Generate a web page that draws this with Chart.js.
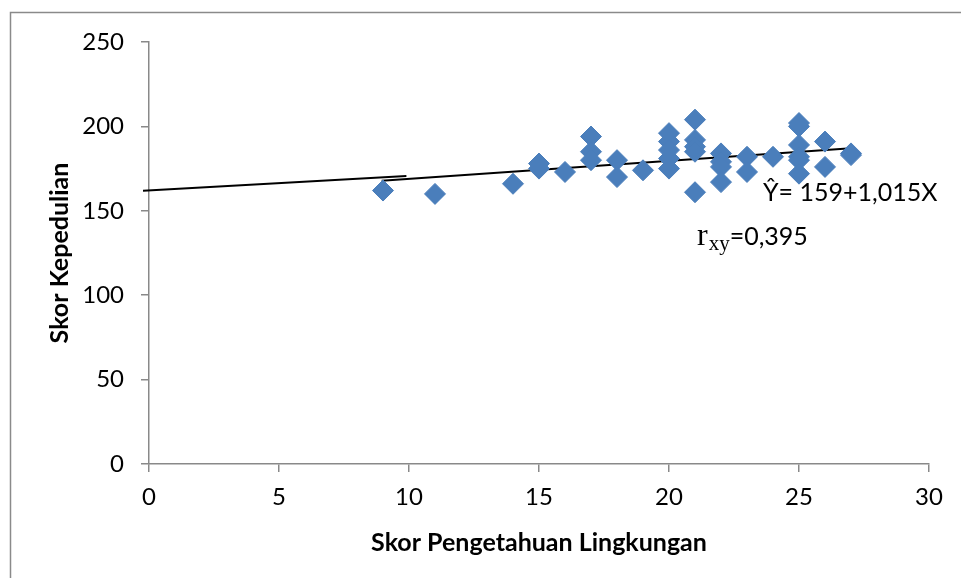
<!DOCTYPE html>
<html>
<head>
<meta charset="utf-8">
<script src="https://cdn.jsdelivr.net/npm/chart.js@4.4.0/dist/chart.umd.min.js"></script>
<style>
  html, body { margin: 0; padding: 0; background: #ffffff; }
  #wrap { width: 961px; height: 578px; }
</style>
</head>
<body>
<div id="wrap"><canvas id="grafico" width="961" height="578"></canvas></div>
<script>
// ---------- dados ----------
const skorPengetahuan = [9, 11, 14, 15, 15, 16, 17, 17, 17, 18, 18, 19, 20, 20, 20, 20, 20,
  21, 21, 21, 21, 21, 22, 22, 22, 22, 23, 23, 24, 25, 25, 25, 25, 25, 25, 26, 26, 27, 27];
const skorKepedulian = [162, 160, 166, 178, 175, 173, 194, 185, 180, 180, 170, 174, 196, 191, 186, 181, 175,
  204, 192, 188, 185, 161, 184, 179, 176, 167, 182, 173, 182, 202, 200, 189, 182, 180, 172, 191, 176, 184, 183];

// garis regresi (digambar dua potong seperti aslinya)
const garis1X = [-0.23, 9.9];
const garis1Y = [161.9, 170.6];
const garis2X = [8.95, 27];
const garis2Y = [167.8, 187];

const yTicks = [0, 50, 100, 150, 200, 250];
const xTicks = [0, 5, 10, 15, 20, 25, 30];

const judulX = "Skor Pengetahuan Lingkungan";
const judulY = "Skor Kepedulian";

// ---------- util ----------
function pasangkan(xs, ys) {
  return xs.map((x, i) => ({ x, y: ys[i] }));
}

const AXIS_COLOR = "#898989";
const FONT = "Lato";

// ---------- plugin: bingkai + anotasi ----------
const dekorasi = {
  id: "dekorasi",
  beforeDraw(chart) {
    const ctx = chart.ctx;
    ctx.save();
    ctx.fillStyle = "#ffffff";
    ctx.fillRect(0, 0, chart.width, chart.height);
    ctx.strokeStyle = "#8a8a8a";
    ctx.lineWidth = 1.5;
    ctx.beginPath();
    ctx.moveTo(10.5, chart.height + 2);
    ctx.lineTo(10.5, 12.5);
    ctx.lineTo(chart.width + 2, 12.5);
    ctx.stroke();
    ctx.restore();
  },
  afterDraw(chart) {
    const ctx = chart.ctx;
    ctx.save();
    ctx.fillStyle = "#000000";
    ctx.textBaseline = "alphabetic";
    ctx.font = "25px " + FONT;
    ctx.fillText("Ŷ= 159+1,015X", 763, 201);
    // r_xy = 0,395
    let x = 697;
    ctx.font = "32px 'Liberation Serif'";
    ctx.fillText("r", x, 245);
    x += ctx.measureText("r").width + 1;
    ctx.font = "21px 'Liberation Serif'";
    ctx.fillText("xy", x, 250);
    x += ctx.measureText("xy").width;
    ctx.font = "25px " + FONT;
    ctx.fillText("=0,395", x, 245);
    ctx.restore();
  }
};

// ---------- gráfico ----------
const ctx = document.getElementById("grafico").getContext("2d");

new Chart(ctx, {
  type: "scatter",
  data: {
    datasets: [
      {
        label: "Skor",
        data: pasangkan(skorPengetahuan, skorKepedulian),
        pointStyle: "rectRot",
        pointRadius: 10.5,
        pointHoverRadius: 10.5,
        backgroundColor: "#4a7ebb",
        borderColor: "#4a7ebb",
        borderWidth: 1,
      },
      {
        type: "line",
        data: pasangkan(garis1X, garis1Y),
        borderColor: "#000000",
        borderWidth: 2,
        pointRadius: 0,
        showLine: true,
        clip: false,
      },
      {
        type: "line",
        data: pasangkan(garis2X, garis2Y),
        borderColor: "#000000",
        borderWidth: 2,
        pointRadius: 0,
        showLine: true,
        clip: false,
      },
    ],
  },
  options: {
    responsive: false,
    animation: false,
    events: [],
    layout: { padding: { left: 0, top: 42, right: 32, bottom: 0 } },
    plugins: {
      legend: { display: false },
      tooltip: { enabled: false },
    },
    scales: {
      x: {
        type: "linear",
        min: 0,
        max: 30,
        afterBuildTicks: (scale) => { scale.ticks = xTicks.map((v) => ({ value: v })); },
        afterFit: (scale) => { scale.height = 114; },
        ticks: { color: "#000000", font: { family: FONT, size: 24 }, padding: 11 },
        grid: { drawOnChartArea: false, drawTicks: true, tickLength: 8, color: AXIS_COLOR, lineWidth: 1.5 },
        border: { display: true, color: AXIS_COLOR, width: 1.5 },
        title: {
          display: true,
          text: judulX,
          color: "#000000",
          font: { family: FONT, size: 25, weight: "bold" },
          padding: { top: 0, bottom: 20 },
        },
      },
      y: {
        type: "linear",
        min: 0,
        max: 250,
        afterBuildTicks: (scale) => { scale.ticks = yTicks.map((v) => ({ value: v })); },
        afterFit: (scale) => { scale.width = 149; },
        ticks: { color: "#000000", font: { family: FONT, size: 24 }, padding: 17 },
        grid: { drawOnChartArea: false, drawTicks: true, tickLength: 8, color: AXIS_COLOR, lineWidth: 1.5 },
        border: { display: true, color: AXIS_COLOR, width: 1.5 },
        title: {
          display: true,
          text: judulY,
          color: "#000000",
          font: { family: FONT, size: 25, weight: "bold" },
          padding: { top: 45, bottom: 0 },
        },
      },
    },
  },
  plugins: [dekorasi],
});
</script>
</body>
</html>
